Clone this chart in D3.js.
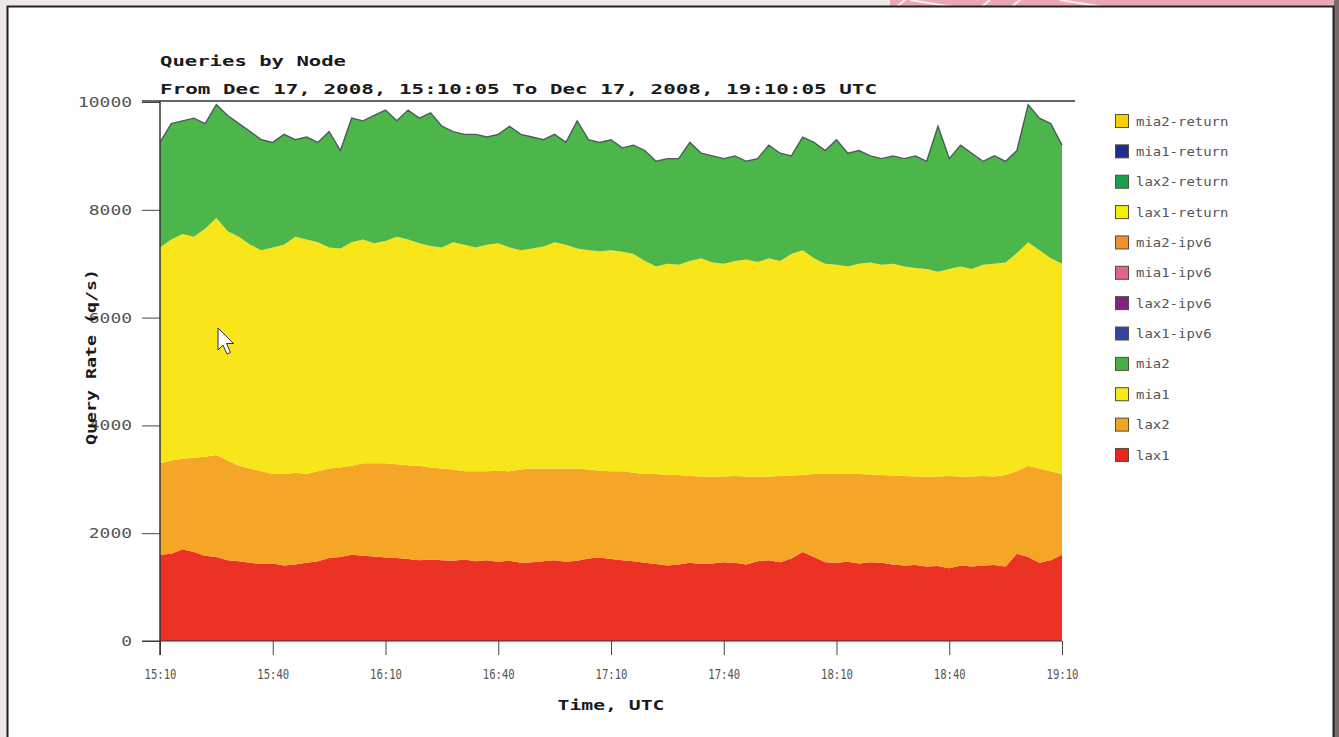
<!DOCTYPE html>
<html>
<head>
<meta charset="utf-8">
<script src="https://cdn.jsdelivr.net/npm/d3@7"></script>
<style>
  body { margin: 0; background: #eee8e8; }
  svg { display: block; }
</style>
</head>
<body>
<div id="container-chart"></div>
<script>
// Queries by Node, stacked area of query rate per node (q/s), 3 minute samples.

//// DATA ///////////////////////////////////////////////////////////////////////
var minutes = d3.range(0, 241, 3); // minutes after 15:10 UTC

var lax1 = [1600,1620,1700,1650,1580,1560,1500,1480,1450,1430,
            1440,1400,1420,1450,1480,1540,1560,1600,1580,1570,
            1550,1540,1520,1500,1510,1500,1490,1510,1480,1500,
            1470,1490,1450,1460,1480,1500,1470,1490,1530,1550,
            1520,1500,1480,1450,1430,1400,1420,1450,1430,1440,
            1460,1450,1420,1480,1500,1460,1530,1650,1560,1460,
            1450,1470,1440,1460,1450,1420,1400,1410,1380,1390,
            1350,1400,1380,1400,1410,1380,1620,1560,1450,1500,
            1600];

var lax2 = [1700,1730,1680,1750,1840,1890,1850,1770,1750,1720,
            1660,1700,1700,1650,1670,1660,1660,1650,1720,1730,
            1750,1740,1740,1750,1710,1700,1690,1640,1670,1650,
            1690,1660,1730,1740,1720,1700,1730,1710,1650,1610,
            1630,1650,1640,1650,1670,1680,1660,1610,1620,1610,
            1590,1610,1630,1570,1550,1600,1540,1430,1540,1640,
            1650,1630,1660,1630,1630,1650,1660,1640,1670,1660,
            1710,1650,1670,1660,1640,1700,1530,1690,1750,1650,
            1500];

var mia1 = [4000,4100,4170,4100,4230,4400,4250,4250,4150,4100,
            4200,4250,4380,4350,4250,4100,4060,4150,4150,4080,
            4120,4220,4190,4130,4110,4100,4220,4200,4150,4200,
            4220,4150,4070,4080,4120,4200,4150,4080,4070,4070,
            4100,4070,4060,3950,3850,3920,3900,3990,4050,3970,
            3950,3990,4030,3980,4050,3990,4110,4170,4000,3900,
            3880,3850,3900,3930,3900,3930,3890,3870,3850,3800,
            3840,3900,3850,3920,3950,3940,4050,4150,4050,3950,
            3900];

var mia2 = [1950,2150,2100,2200,1950,2100,2150,2100,2100,2050,
            1950,2050,1800,1900,1850,2150,1820,2300,2200,2370,
            2430,2150,2400,2320,2470,2250,2050,2050,2100,2000,
            2020,2250,2150,2070,1980,2000,1900,2370,2050,2020,
            2050,1930,2020,2050,1950,1950,1970,2200,1950,1980,
            1950,1950,1820,1920,2100,2000,1820,2100,2150,2100,
            2320,2100,2100,1980,1970,2000,2000,2080,2000,2700,
            2050,2250,2150,1920,2000,1880,1900,2550,2450,2500,
            2200];

var xTickMinutes = [0, 30, 60, 90, 120, 150, 180, 210, 240];
var xTickLabels = ["15:10", "15:40", "16:10", "16:40", "17:10", "17:40", "18:10", "18:40", "19:10"];
var yTicks = [0, 2000, 4000, 6000, 8000, 10000];

var legendNames = ["mia2-return", "mia1-return", "lax2-return", "lax1-return",
                   "mia2-ipv6", "mia1-ipv6", "lax2-ipv6", "lax1-ipv6",
                   "mia2", "mia1", "lax2", "lax1"];
var legendColors = ["#f2d200", "#1c2f8c", "#17a04e", "#f3f000",
                    "#f0902a", "#e0648a", "#7e2584", "#3444a2",
                    "#46b046", "#f8ea1a", "#f0a422", "#e8261e"];

var stackKeys = ["lax1", "lax2", "mia1", "mia2"];
var stackColors = {lax1: "#ec3125", lax2: "#f6a626", mia1: "#f8e61b", mia2: "#4cb64a"};


//// SETTINGS ///////////////////////////////////////////////////////////////////
var width = 1339, height = 737;
var plot = {left: 160, right: 1062, top: 102, bottom: 641};
var fontMono = '"DejaVu Sans Mono", "Liberation Mono", monospace';


//// UI SETUP ///////////////////////////////////////////////////////////////////
var svg = d3.select("#container-chart").append("svg")
            .attr("width", width)
            .attr("height", height);

// page around the white panel
svg.append("rect").attr("width", width).attr("height", height).attr("fill", "#eee8e8");
svg.append("rect").attr("x", 890).attr("y", 0).attr("width", width - 890).attr("height", 8).attr("fill", "#eaa9b1");
svg.append("g").attr("stroke", "#fbeef0").attr("stroke-width", 2)
   .selectAll("line").data([[895, 8, 905, 0], [910, 0, 960, 8], [980, 8, 990, 0], [1010, 8, 1020, 0], [1060, 0, 1110, 8]])
   .join("line")
   .attr("x1", function(d) { return d[0]; }).attr("y1", function(d) { return d[1]; })
   .attr("x2", function(d) { return d[2]; }).attr("y2", function(d) { return d[3]; });
svg.append("rect").attr("x", 1334).attr("y", 0).attr("width", 5).attr("height", height).attr("fill", "#7b6a6a");
svg.append("rect")
   .attr("x", 7.5).attr("y", 6.5).attr("width", 1326).attr("height", height + 10)
   .attr("fill", "#ffffff").attr("stroke", "#222").attr("stroke-width", 2);

var x = d3.scaleLinear().domain([0, 240]).range([plot.left, plot.right]);
var y = d3.scaleLinear().domain([0, 10000]).range([plot.bottom, plot.top]);

var table = minutes.map(function(m, i) {
    return {t: m, lax1: lax1[i], lax2: lax2[i], mia1: mia1[i], mia2: mia2[i]};
});

var series = d3.stack().keys(stackKeys)(table);

var area = d3.area()
    .x(function(d) { return x(d.data.t); })
    .y0(function(d) { return y(d[0]); })
    .y1(function(d) { return y(d[1]); });

svg.append("g").selectAll("path").data(series).join("path")
   .attr("fill", function(s) { return stackColors[s.key]; })
   .attr("d", area);

// dark rim along the top of the stack
var topLine = d3.line()
    .x(function(d) { return x(d.data.t); })
    .y(function(d) { return y(d[1]); });
svg.append("path")
   .datum(series[series.length - 1])
   .attr("fill", "none").attr("stroke", "#4b5e5a").attr("stroke-width", 1.4)
   .attr("d", topLine);

// axes
var xAxis = svg.append("g")
    .attr("transform", "translate(0," + plot.bottom + ")")
    .call(d3.axisBottom(x).tickValues(xTickMinutes)
          .tickFormat(function(d, i) { return xTickLabels[i]; })
          .tickSize(14).tickSizeOuter(0).tickPadding(14));
xAxis.select(".domain").remove();
xAxis.selectAll("line").attr("stroke", "#444");
xAxis.selectAll("text")
     .style("font-family", fontMono).style("font-size", "14px").attr("fill", "#555")
     .attr("textLength", 32).attr("lengthAdjust", "spacingAndGlyphs");

var yAxis = svg.append("g")
    .attr("transform", "translate(" + plot.left + ",0)")
    .call(d3.axisLeft(y).tickValues(yTicks).tickFormat(d3.format("d"))
          .tickSize(18).tickSizeOuter(0).tickPadding(10));
yAxis.select(".domain").remove();
yAxis.selectAll("line").attr("stroke", "#444");
yAxis.selectAll("text")
     .style("font-family", fontMono).style("font-size", "14px").attr("fill", "#555")
     .attr("textLength", function(d) { return String(d).length * 10.8; })
     .attr("lengthAdjust", "spacingAndGlyphs");

// frame lines: top rule, left axis, bottom axis
svg.append("line").attr("x1", 142).attr("x2", 1075).attr("y1", plot.top - 1).attr("y2", plot.top - 1)
   .attr("stroke", "#333").attr("stroke-width", 1.5);
svg.append("line").attr("x1", plot.left).attr("x2", plot.left).attr("y1", plot.top - 1).attr("y2", plot.bottom + 14)
   .attr("stroke", "#333").attr("stroke-width", 1.5);
svg.append("line").attr("x1", 142).attr("x2", plot.right).attr("y1", plot.bottom).attr("y2", plot.bottom)
   .attr("stroke", "#333").attr("stroke-width", 1.2);

// titles
function addText(txt, px, py, size, weight, len, anchor) {
    return svg.append("text")
        .attr("x", px).attr("y", py)
        .style("font-family", fontMono).style("font-size", size + "px").style("font-weight", weight)
        .attr("text-anchor", anchor || "start")
        .attr("textLength", len).attr("lengthAdjust", "spacingAndGlyphs")
        .attr("fill", "#1a1a1a")
        .text(txt);
}

addText("Queries by Node", 160, 66, 14, "bold", 186);
addText("From Dec 17, 2008, 15:10:05 To Dec 17, 2008, 19:10:05 UTC", 160, 94, 14, "bold", 717);
addText("Time, UTC", 611, 710, 14, "bold", 107, "middle");
addText("Query Rate (q/s)", 0, 0, 14, "bold", 176, "middle")
    .attr("transform", "translate(96,357) rotate(-90)");

// legend
var legend = svg.append("g").attr("transform", "translate(1115,0)");
var rows = legend.selectAll("g").data(legendNames).join("g")
    .attr("transform", function(d, i) { return "translate(0," + (121 + i * 30.36) + ")"; });
rows.append("rect")
    .attr("x", 0.5).attr("y", -6.5).attr("width", 13).attr("height", 13)
    .attr("fill", function(d, i) { return legendColors[i]; })
    .attr("stroke", "#5a4a3a").attr("stroke-width", 1);
rows.append("text")
    .attr("x", 21).attr("dy", "0.35em")
    .style("font-family", fontMono).style("font-size", "13px").attr("fill", "#555")
    .attr("textLength", function(d) { return d.length * 8.4; })
    .attr("lengthAdjust", "spacingAndGlyphs")
    .text(function(d) { return d; });

// mouse pointer left in the screenshot
svg.append("path")
   .attr("d", "M218,328 l0,22 l5,-5 l4,9 l3.5,-1.5 l-4,-9 l7,0 z")
   .attr("fill", "#fff").attr("stroke", "#333").attr("stroke-width", 1);
</script>
</body>
</html>
